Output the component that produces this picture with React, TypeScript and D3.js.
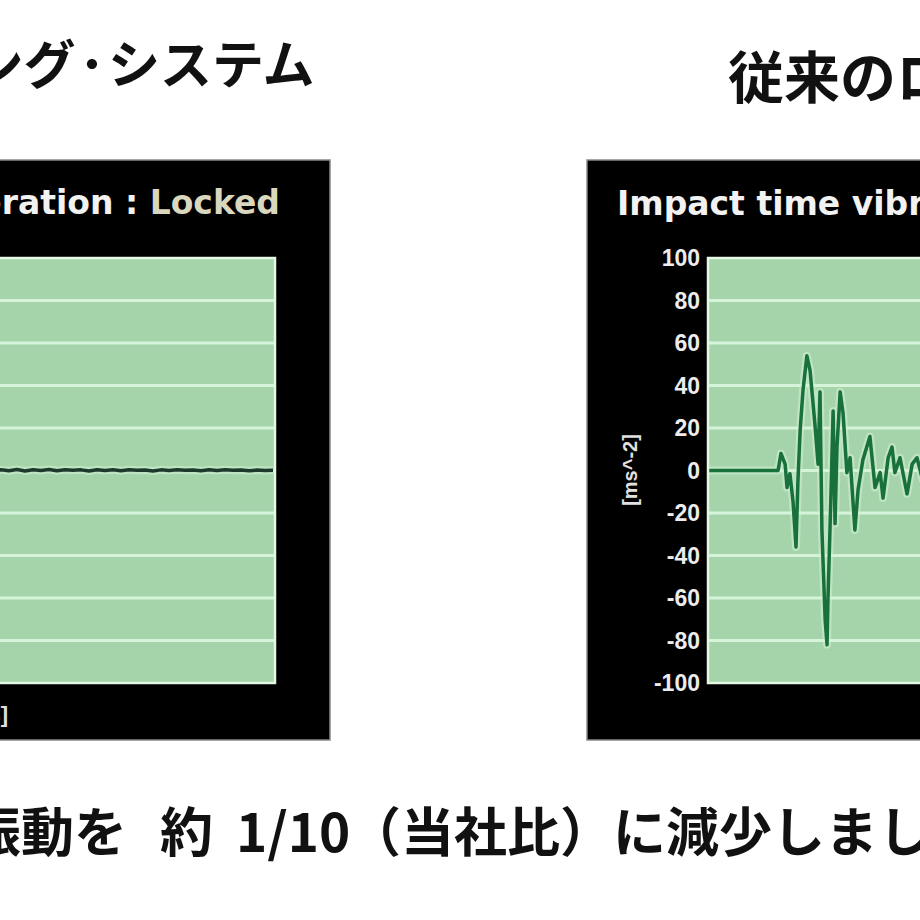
import React from "react";
import * as d3 from "d3";

// ---- data ----
const yTicks = [100, 80, 60, 40, 20, 0, -20, -40, -60, -80, -100];
const gridValues = [80, 60, 40, 20, 0, -20, -40, -60, -80];

// right panel (conventional system) – time (arbitrary units) and acceleration [ms^-2]
const freeT = [0, 1.6, 21.9, 22.8, 24.1, 24.7, 25.6, 26.6, 27.5, 28.1, 28.8, 29.7, 30.9, 31.9, 33.4, 34.4, 35.0, 35.6, 36.6, 37.2, 37.5, 38.4, 39.1, 39.7, 40.3, 41.3, 42.2, 43.4, 44.4, 45.9, 46.9, 48.4, 50.6, 52.2, 53.8, 54.7, 56.3, 57.5, 58.4, 60.0, 62.2, 63.8, 65.3, 67.0, 69.0, 71.0];
const freeV = [0, 0, 0, 8, 3, -8, -1.5, -15, -36, -5, 19, 38, 54, 47, 22, 3, 37, -28, -70, -82, -60, -13, 28, -25, 11, 37, 27, -1, 6, -28, -9, 5, 16, -8, -1, -13, 6, 11, -1, 6, -11, 3, 6, -4, 5, -3];

// left panel (locking system) – nearly flat trace
const lockT = [0, 5, 10, 15, 17.5, 20, 22.5, 25, 27.5, 30, 32.5, 35, 37.5, 40, 42.5, 45, 47.5, 50, 52.5, 55, 57.5, 60, 62.5, 65, 67.5, 70, 72.5, 75, 77.5, 80, 82.5, 85, 87.5, 90, 92.5, 95, 97.5, 100];
const lockV = [0, 0.2, -0.2, 0.3, -0.1, 0.5, -0.2, 0.4, 0, 0.5, -0.1, 0.4, 0.1, 0.3, -0.2, 0.4, 0, 0.3, -0.1, 0.4, 0.1, 0.2, -0.2, 0.3, 0, 0.4, 0.1, 0.2, -0.1, 0.3, 0, 0.4, 0.1, 0.2, -0.1, 0.2, 0, 0.1];

const leftTitleParts = ["ロッキング", "･", "システム"];
const rightTitle = "従来のロッキング･システム";
const leftPanelTitleA = "Impact time acceleration : ";
const leftPanelTitleB = "Locked";
const rightPanelTitle = "Impact time vibration : Free";
const yLabel = "[ms^-2]";
const xLabel = "[ms]";
const captionParts = ["振動を", "約", "1/10", "（当社比）に減少しました。"];

const GREEN = "#a5d4aa";
const GRID = "#d6f4d9";
const JP = "'Noto Sans CJK JP', 'Noto Sans', sans-serif";
const LAT = "'DejaVu Sans', Verdana, sans-serif";
const NUM = "'Liberation Sans', Arial, sans-serif";

const PLOT_TOP = 258;
const PLOT_BOTTOM = 683;

const y = d3.scaleLinear().domain([-100, 100]).range([PLOT_BOTTOM, PLOT_TOP]);
const xRight = d3.scaleLinear().domain([0, 100]).range([708, 1028]);
const xLeft = d3.scaleLinear().domain([0, 100]).range([-47, 273]);

function Panel({ x, x0, x1, t, v, lineColor, clipId }: any) {
  const line = d3
    .line<number>()
    .x((_, i) => x(t[i]))
    .y((d) => y(d))
    .curve(d3.curveLinear);
  const path = line(v) || "";
  return (
    <g>
      <defs>
        <clipPath id={clipId}>
          <rect x={x0} y={PLOT_TOP} width={x1 - x0} height={PLOT_BOTTOM - PLOT_TOP} />
        </clipPath>
      </defs>
      <rect x={x0} y={PLOT_TOP} width={x1 - x0} height={PLOT_BOTTOM - PLOT_TOP} fill={GREEN} />
      {gridValues.map((g) => (
        <line key={g} x1={x0} x2={x1} y1={y(g)} y2={y(g)} stroke={GRID} strokeWidth={3} />
      ))}
      <g clipPath={`url(#${clipId})`}>
        <path d={path} fill="none" stroke="#d4f0d6" strokeWidth={8} strokeOpacity={0.55} strokeLinejoin="round" />
        <path d={path} fill="none" stroke={lineColor} strokeWidth={3.5} strokeLinejoin="round" />
      </g>
      <rect x={x0} y={PLOT_TOP} width={x1 - x0} height={PLOT_BOTTOM - PLOT_TOP} fill="none" stroke="#e4f8e4" strokeWidth={2.5} />
    </g>
  );
}

export default function App() {
  return (
    <svg width={920} height={920} style={{ position: "absolute", left: 0, top: 0, background: "#fff" }}>
      <rect x={0} y={0} width={920} height={920} fill="#fff" />
      {/* headings */}
      <text y={84} fontFamily={JP} fontWeight={700} fontSize={52} fill="#111">
        <tspan x={-183}>{leftTitleParts[0]}</tspan>
        <tspan x={79}>{leftTitleParts[1]}</tspan>
        <tspan x={108}>{leftTitleParts[2]}</tspan>
      </text>
      <text x={728} y={98} textAnchor="start" fontFamily={JP} fontWeight={700} fontSize={56} fill="#111">
        {rightTitle}
      </text>

      {/* left panel */}
      <rect x={-220} y={160} width={550} height={580} fill="#000" stroke="#888" strokeWidth={1.5} />
      <text x={280} y={214} textAnchor="end" fontFamily={LAT} fontWeight={700} fontSize={33} fill="#f2f2f2">
        {leftPanelTitleA}
        <tspan fill="#d9d7bd">{leftPanelTitleB}</tspan>
      </text>
      <Panel x={xLeft} x0={-60} x1={275} t={lockT} v={lockV} lineColor="#1c3a2c" clipId="clipL" />
      <text x={8} y={722} textAnchor="end" fontFamily={NUM} fontWeight={700} fontSize={22} fill="#e0e0e0">
        {xLabel}
      </text>

      {/* right panel */}
      <rect x={587} y={160} width={560} height={580} fill="#000" stroke="#888" strokeWidth={1.5} />
      <text x={617} y={215} textAnchor="start" fontFamily={LAT} fontWeight={700} fontSize={33} fill="#f2f2f2">
        {rightPanelTitle}
      </text>
      <Panel x={xRight} x0={708} x1={1040} t={freeT} v={freeV} lineColor="#18703a" clipId="clipR" />
      {yTicks.map((tk) => (
        <text key={tk} x={700} y={y(tk)} dy="0.36em" textAnchor="end" fontFamily={NUM} fontWeight={700} fontSize={23} fill="#ececec">
          {tk}
        </text>
      ))}
      <text
        transform={`translate(637,470) rotate(-90)`}
        textAnchor="middle"
        fontFamily={NUM}
        fontWeight={700}
        fontSize={20}
        fill="#e0e0e0"
      >
        {yLabel}
      </text>

      {/* caption */}
      <text y={852} fontFamily={JP} fontWeight={700} fontSize={53} fill="#111">
        <tspan x={-32}>{captionParts[0]}</tspan>
        <tspan x={160}>{captionParts[1]}</tspan>
        <tspan x={236}>{captionParts[2]}</tspan>
        <tspan x={348}>{captionParts[3]}</tspan>
      </text>
    </svg>
  );
}
